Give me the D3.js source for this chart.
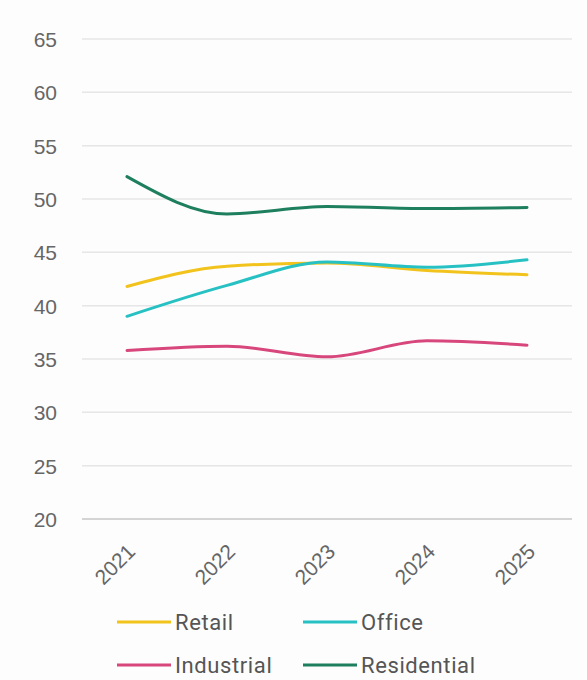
<!DOCTYPE html>
<html>
<head>
<meta charset="utf-8">
<script src="https://cdn.jsdelivr.net/npm/d3@7"></script>
<style>
  html, body { margin: 0; padding: 0; background: #fdfdfd; }
  svg { display: block; font-family: Roboto, "Noto Sans", sans-serif; }
</style>
</head>
<body>
<svg id="chart" width="587" height="680"></svg>
<script>
// Categories and series
const years = ["2021", "2022", "2023", "2024", "2025"];
const retail = [41.8, 43.7, 44.0, 43.3, 42.9];
const office = [39.0, 41.9, 44.1, 43.6, 44.3];
const industrial = [35.8, 36.2, 35.2, 36.7, 36.3];
const residential = [52.1, 48.6, 49.3, 49.1, 49.2];
const yTicks = [20, 25, 30, 35, 40, 45, 50, 55, 60, 65];

const seriesNames = ["Retail", "Office", "Industrial", "Residential"];
const seriesValues = [retail, office, industrial, residential];
const colors = ["#f2c31c", "#27c1c4", "#d8477c", "#1d7f5e"];

const svg = d3.select("#chart");
const plotLeft = 82, plotRight = 572, plotTop = 39, plotBottom = 519;

const x = d3.scalePoint().domain(years).range([plotLeft, plotRight]).padding(0.45);
const y = d3.scaleLinear().domain([20, 65]).range([plotBottom, plotTop]);

// Horizontal grid lines
svg.append("g")
  .selectAll("line")
  .data(yTicks)
  .join("line")
  .attr("x1", plotLeft).attr("x2", plotRight)
  .attr("y1", d => y(d)).attr("y2", d => y(d))
  .attr("stroke", d => d === 20 ? "#d4d4d4" : "#e6e6e6")
  .attr("stroke-width", d => d === 20 ? 2 : 1.5);

// Y axis labels
const yAxis = svg.append("g")
  .attr("transform", `translate(${plotLeft - 25},0)`)
  .call(d3.axisLeft(y).tickValues(yTicks).tickSize(0).tickPadding(0));
yAxis.select(".domain").remove();
yAxis.selectAll("text")
  .attr("fill", "#666")
  .style("font-size", "21px")
  .attr("dy", "0.35em");

// X axis labels, rotated
const xAxis = svg.append("g")
  .attr("transform", `translate(0,${plotBottom})`)
  .call(d3.axisBottom(x).tickSize(0).tickPadding(0));
xAxis.select(".domain").remove();
xAxis.selectAll("text")
  .attr("fill", "#666")
  .style("font-size", "21px")
  .attr("text-anchor", "end")
  .attr("y", 0)
  .attr("dy", 0)
  .attr("transform", "translate(9,34) rotate(-45)");

// Lines
const line = d3.line()
  .x((d, i) => x(years[i]))
  .y(d => y(d))
  .curve(d3.curveMonotoneX);

svg.append("g")
  .selectAll("path")
  .data(seriesValues)
  .join("path")
  .attr("d", d => line(d))
  .attr("fill", "none")
  .attr("stroke", (d, i) => colors[i])
  .attr("stroke-width", 3)
  .attr("stroke-linecap", "round");

// Legend
const legendPos = [[117, 622], [303, 622], [117, 665], [303, 665]];
const legend = svg.append("g")
  .selectAll("g")
  .data(seriesNames)
  .join("g")
  .attr("transform", (d, i) => `translate(${legendPos[i][0]},${legendPos[i][1]})`);
legend.append("line")
  .attr("x1", 0).attr("x2", 54)
  .attr("stroke", (d, i) => colors[i])
  .attr("stroke-width", 3);
legend.append("text")
  .attr("x", 58)
  .attr("dy", "0.35em")
  .attr("fill", "#555")
  .style("font-size", "22px")
  .style("letter-spacing", "0.6px")
  .text(d => d);
</script>
</body>
</html>
